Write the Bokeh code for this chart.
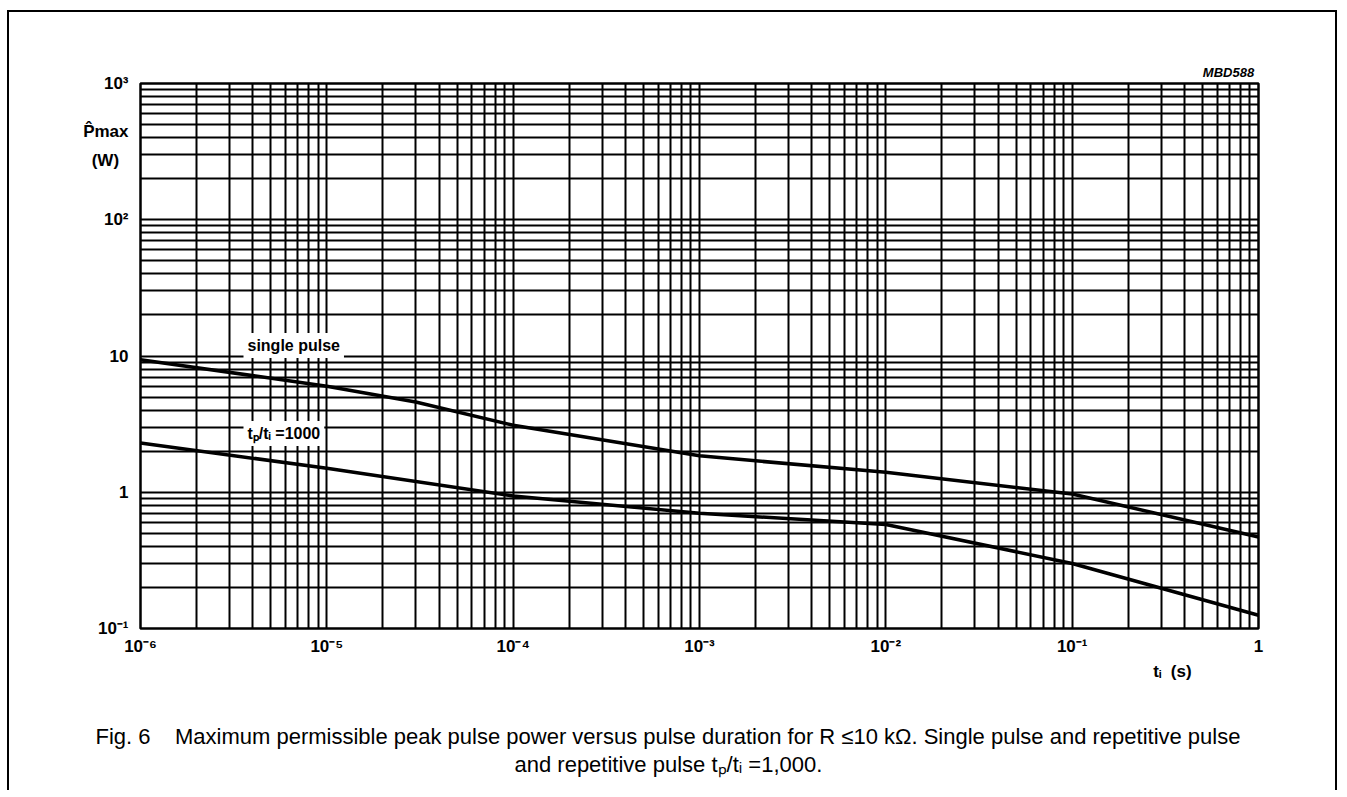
from bokeh.plotting import figure
from bokeh.models import FixedTicker, Label, LogAxis, Title
from bokeh.embed import file_html
from bokeh.resources import INLINE

# ---- data ----
t_single = [1e-6, 1e-5, 3e-5, 1e-4, 1e-3, 1e-2, 1e-1, 1.0]
p_single = [9.4, 6.0, 4.6, 3.1, 1.85, 1.4, 0.97, 0.47]

t_rep = [1e-6, 1e-5, 1e-4, 1e-3, 1e-2, 1e-1, 1.0]
p_rep = [2.3, 1.5, 0.94, 0.70, 0.58, 0.30, 0.125]

x_major = [1e-6, 1e-5, 1e-4, 1e-3, 1e-2, 1e-1, 1.0]
x_labels = ["10⁻⁶", "10⁻⁵", "10⁻⁴", "10⁻³", "10⁻²", "10⁻¹", "1"]
y_major = [1e-1, 1.0, 10.0, 100.0, 1000.0]
y_labels = ["10⁻¹", "1", "10", "10²", "10³"]

x_minor = [k * 10.0 ** e for e in range(-6, 0) for k in range(2, 10)]
y_minor = [k * 10.0 ** e for e in range(-1, 3) for k in range(2, 10)]

y_title = "P̂max"
y_unit = "(W)"
x_title = "tᵢ\u00a0\u00a0(s)"
code = "MBD588"
caption1 = ("Fig. 6\u00a0\u00a0\u00a0\u00a0Maximum permissible peak pulse power versus "
            "pulse duration for R ≤10 kΩ. Single pulse and repetitive pulse")
caption2 = "and repetitive pulse tₚ/tᵢ =1,000."

# ---- layout geometry (page pixels) ----
W, H = 1340, 790
FL, FR, FT, FB = 140, 1258, 83, 628

FONT = "Liberation Sans"


def dx(px):
    return 10 ** (-6 + 6.0 * (px - FL) / (FR - FL))


def dy(py):
    return 10 ** (-1 + 4.0 * (FB - py) / (FB - FT))


p = figure(width=W, height=H, x_axis_type="log", y_axis_type="log",
           x_range=(1e-6, 1.0), y_range=(0.1, 1000.0),
           output_backend="svg", toolbar_location=None,
           min_border_left=FL, min_border_right=W - FR,
           min_border_top=FT, min_border_bottom=H - FB)

xmain = p.xaxis[0]
ymain = p.yaxis[0]

xt = FixedTicker(ticks=x_major, minor_ticks=x_minor)
yt = FixedTicker(ticks=y_major, minor_ticks=y_minor)
p.xgrid.ticker = xt
p.ygrid.ticker = yt

# main axes
xmain.ticker = FixedTicker(ticks=x_major)
xmain.major_label_overrides = dict(zip(x_major, x_labels))
y_title_pos = [dy(131), dy(160)]
ymain.ticker = FixedTicker(ticks=y_major + y_title_pos)
ymain.major_label_overrides = {**dict(zip(y_major, y_labels)),
                               y_title_pos[0]: y_title,
                               y_title_pos[1]: y_unit + "\u00a0\u00a0"}

# extra axis below for the x title (its blank label spaces the caption)
ti_pos = dx(1172)
xax2 = LogAxis(ticker=FixedTicker(ticks=[ti_pos]),
               major_label_overrides={ti_pos: x_title},
               axis_label="\u00a0", axis_label_standoff=17,
               axis_label_text_font_size="16px")
p.add_layout(xax2, "below")

# extra axis above for the drawing code
mb_pos = dx(1228)
xax3 = LogAxis(ticker=FixedTicker(ticks=[mb_pos]),
               major_label_overrides={mb_pos: code})
p.add_layout(xax3, "above")

for ax in (xmain, ymain, xax2, xax3):
    ax.major_label_text_font = FONT
    ax.major_label_text_font_style = "bold"
    ax.major_label_text_font_size = "17px"
    ax.major_label_text_color = "black"
    ax.major_tick_line_color = None
    ax.minor_tick_line_color = None
    ax.major_tick_out = 0
    ax.minor_tick_out = 0
    ax.axis_line_color = None
xmain.major_label_standoff = 8
ymain.major_label_standoff = 12
xax2.major_label_standoff = 3
xax3.major_label_standoff = 4
xax3.major_label_text_font_size = "13px"
xax3.major_label_text_font_style = "bold italic"

# caption lines
p.add_layout(Title(text=caption1, align="left", offset=95 - FL, standoff=2,
                   text_font=FONT, text_font_size="22px",
                   text_font_style="normal", text_color="black"), "below")
p.add_layout(Title(text=caption2, align="left", offset=514 - FL, standoff=0,
                   text_font=FONT, text_font_size="22px",
                   text_font_style="normal", text_color="black"), "below")

for g in (p.xgrid, p.ygrid):
    g.grid_line_color = "black"
    g.grid_line_width = 2
    g.grid_line_alpha = 1.0
    g.minor_grid_line_color = "black"
    g.minor_grid_line_width = 2
    g.minor_grid_line_alpha = 1.0

p.outline_line_color = "black"
p.outline_line_width = 2.5
p.background_fill_color = "white"
p.border_fill_color = None

# the page frame around the figure
p.styles = {
    "background-color": "white",
    "background-image": ", ".join([
        "linear-gradient(to right, transparent 7px, black 7px, black 9px, transparent 9px)",
        "linear-gradient(to right, transparent 1335px, black 1335px, black 1337px, transparent 1337px)",
        "linear-gradient(to bottom, transparent 10px, black 10px, black 12px, transparent 12px)",
    ]),
    "background-repeat": "no-repeat",
    "background-position": "0px 10px, 0px 10px, 7px 0px",
    "background-size": "100% 100%, 100% 100%, 1330px 100%",
}

p.line(t_single, p_single, line_color="black", line_width=3.5)
p.line(t_rep, p_rep, line_color="black", line_width=3.5)


def lab(text, px, py):
    p.add_layout(Label(x=px - FL, y=FB - py, x_units="screen", y_units="screen",
                       text=text, text_font=FONT, text_font_size="16px",
                       text_font_style="bold", text_align="left",
                       text_baseline="middle", text_color="black",
                       background_fill_color="white", padding=4))


lab("single pulse", 243, 345)
lab("tₚ/tᵢ =1000", 243, 433)

open("out.html", "w").write(file_html(p, INLINE))
